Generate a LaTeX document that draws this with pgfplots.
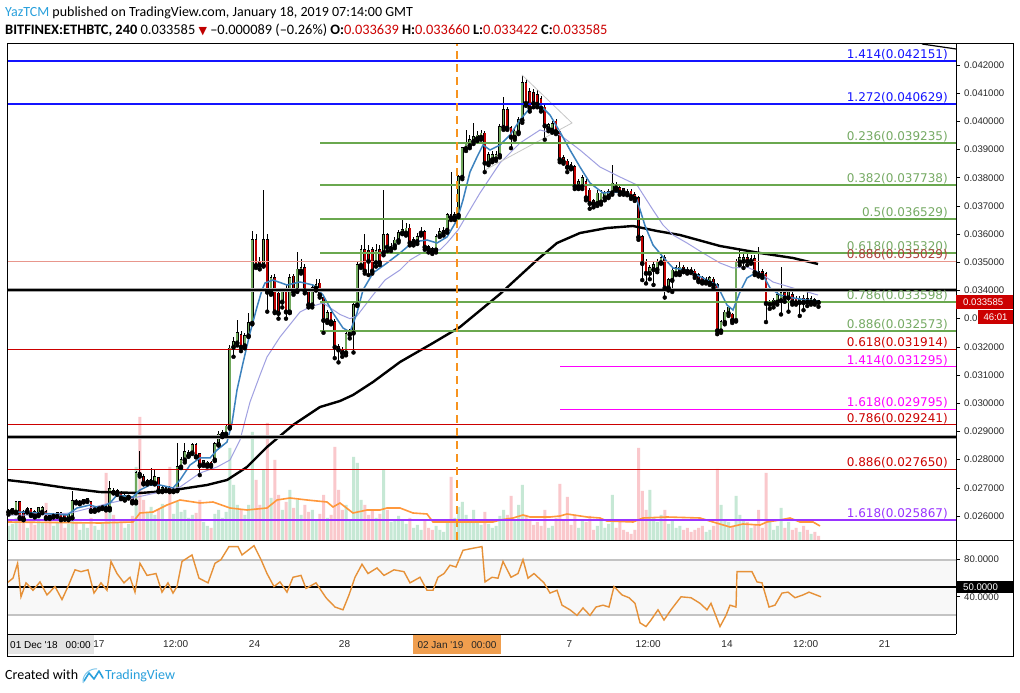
\documentclass[border=0pt]{standalone}
\usepackage{fontspec}
\setmainfont{Carlito}
\newfontfamily\dv{DejaVu Sans}
\newfontfamily\lib{Liberation Sans}
\usepackage{pgfplots}
\pgfplotsset{compat=1.18}
\usepackage{pgfplotstable}
\definecolor{tvblue}{RGB}{41,160,220}
\definecolor{fibblue}{RGB}{20,20,255}
\definecolor{fibgreen}{RGB}{106,168,79}
\definecolor{fibgreentext}{RGB}{118,170,100}
\definecolor{fibred}{RGB}{204,0,0}
\definecolor{fibsalmon}{RGB}{232,150,140}
\definecolor{fibbrown}{RGB}{175,65,60}
\definecolor{fibmag}{RGB}{255,0,255}
\definecolor{fibpurple}{RGB}{153,51,255}
\definecolor{candg}{RGB}{112,168,92}
\definecolor{candr}{RGB}{192,0,0}
\definecolor{volg}{RGB}{198,232,213}
\definecolor{volr}{RGB}{250,200,204}
\definecolor{volma}{RGB}{255,152,60}
\definecolor{mablue}{RGB}{60,130,190}
\definecolor{mapurple}{RGB}{160,160,225}
\definecolor{dashor}{RGB}{247,147,30}
\definecolor{rsiline}{RGB}{230,145,56}
\definecolor{bandline}{RGB}{195,195,195}
\definecolor{bandfill}{RGB}{248,248,248}
\definecolor{ticktext}{RGB}{40,40,40}
\definecolor{pricered}{RGB}{204,0,0}
\definecolor{boxorange}{RGB}{240,158,78}
\definecolor{boxgrey}{RGB}{228,228,228}

\pgfplotstableread{
o h l c v
0.02615 0.02625 0.02605 0.02620 14
0.02620 0.02630 0.02612 0.02625 16
0.02615 0.02655 0.02610 0.02650 22
0.02650 0.02655 0.02590 0.02595 28
0.02615 0.02620 0.02585 0.02590 20
0.02618 0.02632 0.02612 0.02625 12
0.02625 0.02630 0.02600 0.02605 18
0.02615 0.02620 0.02595 0.02600 15
0.02605 0.02632 0.02600 0.02628 22
0.02615 0.02635 0.02610 0.02630 17
0.02615 0.02620 0.02590 0.02595 37
0.02600 0.02605 0.02590 0.02595 20
0.02600 0.02610 0.02595 0.02605 14
0.02600 0.02615 0.02598 0.02612 18
0.02612 0.02615 0.02585 0.02590 24
0.02605 0.02608 0.02588 0.02590 12
0.02590 0.02610 0.02585 0.02605 16
0.02595 0.02690 0.02592 0.02655 30
0.02655 0.02660 0.02645 0.02650 18
0.02648 0.02656 0.02642 0.02652 10
0.02652 0.02662 0.02648 0.02657 16
0.02655 0.02665 0.02650 0.02660 12
0.02650 0.02655 0.02615 0.02620 22
0.02622 0.02632 0.02615 0.02628 14
0.02625 0.02636 0.02620 0.02632 10
0.02630 0.02640 0.02625 0.02635 18
0.02632 0.02638 0.02620 0.02628 67
0.02628 0.02725 0.02620 0.02697 33
0.02690 0.02700 0.02680 0.02685 25
0.02682 0.02695 0.02675 0.02690 18
0.02680 0.02688 0.02660 0.02665 20
0.02660 0.02678 0.02655 0.02672 12
0.02668 0.02676 0.02662 0.02672 16
0.02665 0.02670 0.02645 0.02652 24
0.02652 0.02760 0.02645 0.02752 73
0.02752 0.02830 0.02740 0.02748 123
0.02740 0.02750 0.02712 0.02718 40
0.02718 0.02730 0.02712 0.02725 28
0.02722 0.02770 0.02715 0.02728 33
0.02718 0.02765 0.02712 0.02738 25
0.02735 0.02740 0.02685 0.02690 30
0.02690 0.02705 0.02685 0.02700 36
0.02692 0.02705 0.02688 0.02700 20
0.02700 0.02705 0.02685 0.02690 73
0.02690 0.02700 0.02685 0.02695 26
0.02692 0.02860 0.02688 0.02775 38
0.02775 0.02810 0.02770 0.02800 28
0.02800 0.02860 0.02790 0.02827 30
0.02815 0.02835 0.02810 0.02825 22
0.02825 0.02860 0.02820 0.02852 25
0.02852 0.02858 0.02808 0.02812 27
0.02820 0.02825 0.02745 0.02780 40
0.02785 0.02800 0.02778 0.02795 18
0.02782 0.02795 0.02775 0.02790 14
0.02790 0.02795 0.02775 0.02782 12
0.02800 0.02862 0.02795 0.02855 26
0.02855 0.02900 0.02850 0.02890 30
0.02888 0.02905 0.02880 0.02895 22
0.02892 0.02925 0.02885 0.02918 28
0.02916 0.03205 0.02910 0.03195 92
0.03200 0.03235 0.03165 0.03217 55
0.03215 0.03295 0.03205 0.03250 35
0.03243 0.03255 0.03185 0.03200 30
0.03205 0.03250 0.03195 0.03240 25
0.03240 0.03320 0.03235 0.03285 35
0.03285 0.03610 0.03280 0.03580 108
0.03580 0.03600 0.03480 0.03490 60
0.03500 0.03520 0.03475 0.03490 35
0.03490 0.03757 0.03485 0.03580 70
0.03580 0.03600 0.03325 0.03395 117
0.03395 0.03455 0.03385 0.03445 42
0.03445 0.03460 0.03320 0.03325 80
0.03390 0.03400 0.03300 0.03320 45
0.03360 0.03405 0.03340 0.03395 30
0.03395 0.03420 0.03300 0.03325 38
0.03325 0.03460 0.03320 0.03445 50
0.03450 0.03460 0.03385 0.03395 32
0.03400 0.03535 0.03395 0.03475 40
0.03470 0.03510 0.03460 0.03480 25
0.03480 0.03495 0.03390 0.03400 35
0.03395 0.03400 0.03340 0.03350 28
0.03350 0.03420 0.03340 0.03410 30
0.03410 0.03440 0.03400 0.03420 20
0.03425 0.03440 0.03375 0.03385 26
0.03375 0.03380 0.03250 0.03295 45
0.03295 0.03330 0.03285 0.03320 22
0.03320 0.03325 0.03280 0.03290 25
0.03290 0.03300 0.03160 0.03200 93
0.03200 0.03210 0.03145 0.03190 50
0.03190 0.03200 0.03165 0.03180 30
0.03180 0.03255 0.03170 0.03245 35
0.03245 0.03265 0.03230 0.03255 20
0.03250 0.03355 0.03180 0.03350 83
0.03350 0.03500 0.03345 0.03490 77
0.03490 0.03560 0.03480 0.03545 40
0.03545 0.03600 0.03460 0.03470 35
0.03540 0.03560 0.03455 0.03505 25
0.03545 0.03555 0.03460 0.03470 30
0.03500 0.03565 0.03485 0.03540 22
0.03545 0.03560 0.03490 0.03500 26
0.03535 0.03757 0.03525 0.03597 70
0.03597 0.03605 0.03540 0.03555 30
0.03550 0.03570 0.03540 0.03555 18
0.03560 0.03590 0.03550 0.03578 20
0.03578 0.03615 0.03570 0.03605 24
0.03605 0.03655 0.03600 0.03615 20
0.03605 0.03640 0.03595 0.03620 16
0.03620 0.03635 0.03560 0.03570 22
0.03572 0.03590 0.03560 0.03580 12
0.03575 0.03605 0.03565 0.03590 15
0.03605 0.03625 0.03595 0.03610 10
0.03608 0.03615 0.03545 0.03555 20
0.03555 0.03560 0.03535 0.03548 12
0.03548 0.03555 0.03530 0.03540 10
0.03545 0.03600 0.03535 0.03590 14
0.03595 0.03620 0.03590 0.03608 10
0.03605 0.03625 0.03595 0.03612 8
0.03615 0.03675 0.03605 0.03668 18
0.03668 0.03820 0.03650 0.03660 63
0.03660 0.03680 0.03650 0.03668 22
0.03668 0.03810 0.03660 0.03803 33
0.03803 0.03910 0.03795 0.03905 38
0.03905 0.03970 0.03895 0.03923 25
0.03915 0.03950 0.03905 0.03935 20
0.03930 0.03995 0.03920 0.03945 30
0.03940 0.03965 0.03930 0.03950 18
0.03945 0.03970 0.03935 0.03958 15
0.03958 0.03965 0.03820 0.03853 28
0.03853 0.03890 0.03845 0.03880 16
0.03865 0.03895 0.03855 0.03880 12
0.03868 0.03895 0.03860 0.03882 14
0.03880 0.03990 0.03872 0.03980 24
0.03980 0.04087 0.03970 0.04040 30
0.04040 0.04050 0.03970 0.03977 25
0.03977 0.03985 0.03905 0.03945 44
0.03945 0.03975 0.03935 0.03965 20
0.03962 0.04015 0.03955 0.04005 35
0.04005 0.04165 0.03995 0.04136 55
0.04136 0.04150 0.04055 0.04065 25
0.04105 0.04120 0.04035 0.04048 20
0.04100 0.04115 0.04050 0.04065 15
0.04095 0.04110 0.04050 0.04062 18
0.04080 0.04090 0.04035 0.04048 14
0.04050 0.04060 0.03935 0.03985 30
0.03975 0.03995 0.03965 0.03988 12
0.03970 0.04000 0.03960 0.03990 14
0.04000 0.04010 0.03955 0.03965 22
0.03965 0.03970 0.03855 0.03865 56
0.03870 0.03880 0.03850 0.03858 20
0.03858 0.03865 0.03820 0.03838 43
0.03845 0.03855 0.03830 0.03838 15
0.03838 0.03845 0.03760 0.03770 25
0.03770 0.03795 0.03760 0.03785 12
0.03770 0.03810 0.03760 0.03800 20
0.03785 0.03795 0.03720 0.03730 18
0.03755 0.03765 0.03690 0.03710 24
0.03718 0.03725 0.03695 0.03708 10
0.03710 0.03755 0.03700 0.03745 14
0.03715 0.03755 0.03705 0.03745 20
0.03730 0.03752 0.03720 0.03745 12
0.03735 0.03760 0.03728 0.03750 16
0.03748 0.03845 0.03740 0.03780 45
0.03775 0.03785 0.03755 0.03765 12
0.03765 0.03770 0.03740 0.03750 18
0.03760 0.03765 0.03740 0.03750 10
0.03752 0.03760 0.03738 0.03745 8
0.03752 0.03760 0.03725 0.03735 6
0.03740 0.03748 0.03718 0.03728 10
0.03728 0.03735 0.03580 0.03590 92
0.03590 0.03598 0.03437 0.03497 49
0.03500 0.03510 0.03425 0.03462 30
0.03462 0.03490 0.03440 0.03480 50
0.03475 0.03500 0.03420 0.03490 22
0.03475 0.03510 0.03465 0.03500 18
0.03500 0.03525 0.03495 0.03515 25
0.03515 0.03525 0.03375 0.03410 30
0.03410 0.03445 0.03400 0.03437 16
0.03437 0.03480 0.03395 0.03472 20
0.03462 0.03490 0.03455 0.03480 12
0.03465 0.03500 0.03455 0.03482 14
0.03482 0.03490 0.03465 0.03472 10
0.03475 0.03485 0.03460 0.03468 12
0.03475 0.03482 0.03462 0.03468 8
0.03468 0.03475 0.03445 0.03455 10
0.03455 0.03462 0.03430 0.03437 12
0.03445 0.03450 0.03425 0.03432 14
0.03432 0.03448 0.03425 0.03438 8
0.03428 0.03452 0.03420 0.03445 10
0.03440 0.03448 0.03410 0.03420 14
0.03420 0.03425 0.03245 0.03258 71
0.03258 0.03295 0.03250 0.03288 35
0.03288 0.03330 0.03280 0.03322 20
0.03320 0.03345 0.03310 0.03340 18
0.03315 0.03320 0.03285 0.03295 14
0.03295 0.03510 0.03290 0.03500 44
0.03502 0.03550 0.03490 0.03515 25
0.03505 0.03530 0.03480 0.03515 20
0.03515 0.03530 0.03490 0.03505 18
0.03505 0.03525 0.03495 0.03512 12
0.03512 0.03525 0.03455 0.03465 15
0.03465 0.03555 0.03450 0.03458 30
0.03465 0.03475 0.03445 0.03455 12
0.03458 0.03465 0.03288 0.03355 67
0.03352 0.03365 0.03335 0.03358 20
0.03355 0.03372 0.03340 0.03365 10
0.03360 0.03395 0.03350 0.03385 14
0.03365 0.03485 0.03315 0.03392 32
0.03392 0.03400 0.03360 0.03375 12
0.03375 0.03405 0.03325 0.03395 18
0.03385 0.03395 0.03350 0.03360 10
0.03372 0.03380 0.03350 0.03358 12
0.03358 0.03380 0.03310 0.03372 8
0.03372 0.03385 0.03330 0.03358 14
0.03370 0.03405 0.03345 0.03360 10
0.03360 0.03380 0.03350 0.03370 6
0.03368 0.03375 0.03350 0.03360 8
0.033639 0.033660 0.033422 0.033585 4
}\candles

\pgfplotstableread{
x y
7 0.027277
33 0.027171
67 0.026993
100 0.026851
140 0.026816
167 0.026887
187 0.026993
207 0.027100
227 0.027277
247 0.027738
267 0.028448
293 0.029228
320 0.029867
340 0.030080
353 0.030293
373 0.030754
400 0.031463
433 0.032137
460 0.032705
500 0.033876
537 0.035082
557 0.035685
580 0.036040
607 0.036217
633 0.036288
657 0.036111
680 0.035969
720 0.035579
760 0.035330
793 0.035153
818 0.034940
}\maBlack

\pgfplotstableread{
x y
7 0.026142
20 0.026142
40 0.026106
67 0.026035
77 0.026284
90 0.026390
100 0.026284
110 0.026461
117 0.026745
133 0.026674
140 0.026922
150 0.027100
160 0.027100
173 0.026993
180 0.027277
190 0.027809
200 0.028058
210 0.028058
217 0.028342
227 0.028625
232 0.029299
237 0.030470
243 0.031428
250 0.032492
257 0.033415
262 0.034018
265 0.034266
273 0.034372
287 0.034195
300 0.034301
313 0.034195
323 0.033840
333 0.033202
343 0.032670
350 0.032528
357 0.033202
363 0.034018
373 0.034621
387 0.034976
400 0.035330
413 0.035721
427 0.035792
437 0.035685
447 0.035898
457 0.036501
463 0.037211
470 0.038204
477 0.038736
483 0.039162
490 0.038984
500 0.039162
510 0.039517
520 0.040049
530 0.040474
540 0.040581
550 0.040226
560 0.039623
570 0.038984
580 0.038381
590 0.037814
603 0.037459
613 0.037494
627 0.037459
637 0.037211
645 0.036300
653 0.035614
663 0.035188
673 0.034798
687 0.034727
703 0.034443
717 0.034195
727 0.033486
733 0.033308
740 0.033947
747 0.034443
757 0.034656
763 0.034550
770 0.034089
780 0.033840
793 0.033734
807 0.033663
818 0.033627
}\maBlue

\pgfplotstableread{
x y
7 0.026035
40 0.026035
70 0.026106
110 0.026461
133 0.026638
160 0.026851
180 0.027029
200 0.027525
217 0.027738
230 0.027987
240 0.028696
250 0.030044
260 0.031002
267 0.031641
280 0.032350
300 0.033237
310 0.033415
323 0.033557
340 0.033150
350 0.033000
357 0.033100
373 0.033840
385 0.034372
400 0.034727
410 0.035082
427 0.035437
440 0.035437
447 0.035685
458 0.036146
480 0.037459
500 0.038523
520 0.039233
540 0.039694
560 0.039517
580 0.038984
600 0.038381
620 0.038027
637 0.037743
653 0.036856
663 0.036324
673 0.035969
687 0.035685
703 0.035330
720 0.034976
733 0.034798
747 0.034834
760 0.034621
773 0.034301
793 0.034089
818 0.033840
}\maPurple

\pgfplotstableread{
x y
7 18
100 17
133 18
140 27
153 28
167 35
180 40
200 37
213 38
230 32
247 30
267 32
277 40
290 42
307 40
327 38
333 33
340 37
353 27
367 30
380 30
387 32
400 32
413 27
427 26
433 18
450 18
473 18
493 18
500 20
513 22
523 25
530 23
550 23
560 24
567 26
587 23
600 22
607 19
633 18
643 22
667 23
700 22
713 18
730 13
743 16
760 15
767 18
780 20
790 22
800 18
813 18
820 14
}\volMA

\pgfplotstableread{
x y
6.5 54.5
13 60
17.6 76
21 40
26 55
33 47
40 56
47 42
55 51
62 37
68 51
75 69
81 67
88 69
94 44
101 55
107 47
111 78
117 65
124 55
130 61
135 45
140 76
147 63
156 65
162 45
168 55
173 44
177 51
182 78
192 85
199 60
208 55
215 76
221 80
229 94
238 94
242 85
254 95
261 80
267 65
274 51
280 56
287 45
293 61
301 63
306 49
316 55
326 39
335 29
343 26
349 42
355 61
362 75
368 65
377 71
384 63
394 69
404 67
410 55
420 61
427 47
433 47
438 61
444 65
450 74
456 72
463 90
472 92
482 94
485 56
492 61
498 60
503 78
511 61
518 65
523 80
528 60
534 65
544 55
550 44
557 47
562 31
570 26
577 20
583 28
590 20
596 29
603 31
609 29
614 51
622 42
629 39
635 33
640 12
646 8
651 15
658 26
664 15
671 26
681 40
691 39
700 33
707 26
711 33
720 8
726 20
730 31
736 29
737 67
752 67
757 56
762 55
769 29
775 31
782 44
788 45
795 39
803 42
809 45
821 40
}\rsi

\newcommand\fibfont{\dv\fontsize{12}{14}\selectfont}
\newcommand\fiblabel[3]{\node[anchor=base east, inner sep=0pt, text=#1, font=\fibfont, yshift=2.5pt] at (axis cs:948,#2) {#3};}

\begin{document}
\begin{tikzpicture}
\useasboundingbox (0pt,0pt) rectangle (1020pt,693pt);
\fill[white] (0pt,0pt) rectangle (1020pt,693pt);

% ---------- volume (behind) ----------
\begin{axis}[at={(7pt,153pt)}, anchor=south west, scale only axis,
  width=949pt, height=496pt, xmin=7, xmax=956, ymin=0, ymax=496,
  hide axis, clip=true]
\addplot[ybar, bar width=3pt, fill=volg, draw=none]
  table[x expr=\coordindex*3.75+8.5, y expr={\thisrow{c}>=\thisrow{o} ? \thisrow{v} : nan}] {\candles};
\addplot[ybar, bar width=3pt, fill=volr, draw=none]
  table[x expr=\coordindex*3.75+8.5, y expr={\thisrow{c}<\thisrow{o} ? \thisrow{v} : nan}] {\candles};
\addplot[volma, line width=1.6pt] table[x=x,y=y] {\volMA};
\end{axis}

% ---------- main price panel ----------
\begin{axis}[at={(7pt,153pt)}, anchor=south west, scale only axis,
  width=949pt, height=496pt, xmin=7, xmax=956, ymin=0.025149, ymax=0.042745,
  axis line style={draw=none}, xtick=\empty,
  ytick={0.026,0.027,0.028,0.029,0.030,0.031,0.032,0.033,0.034,0.035,0.036,0.037,0.038,0.039,0.040,0.041,0.042},
  ytick pos=right, yticklabel pos=right, scaled y ticks=false,
  tick align=outside, major tick length=4pt,
  tick style={draw=black, line width=0.6pt},
  yticklabel style={font=\lib\fontsize{9.6}{11}\selectfont, text=ticktext, anchor=west, inner sep=0pt, xshift=4pt,
    /pgf/number format/.cd, fixed, fixed zerofill, precision=6, assume math mode=true},
  clip=true]

% wicks
\addplot[only marks, mark=none, error bars/.cd, y dir=plus, y explicit, error mark=none,
  error bar style={draw=black, line width=0.9pt}]
  table[x expr=\coordindex*3.75+8.5, y=l, y error expr=\thisrow{h}-\thisrow{l}] {\candles};
% body outline
\addplot[only marks, mark=none, error bars/.cd, y dir=plus, y explicit, error mark=none,
  error bar style={draw=black, line width=2.9pt}]
  table[x expr=\coordindex*3.75+8.5, y expr={min(\thisrow{o},\thisrow{c})-0.000025},
        y error expr={max(abs(\thisrow{c}-\thisrow{o}),0.00001)+0.00005}] {\candles};
% green bodies
\addplot[only marks, mark=none, error bars/.cd, y dir=plus, y explicit, error mark=none,
  error bar style={draw=candg, line width=1.6pt}]
  table[x expr=\coordindex*3.75+8.5, y expr={\thisrow{c}>=\thisrow{o} ? \thisrow{o} : nan},
        y error expr={\thisrow{c}-\thisrow{o}}] {\candles};
% red bodies
\addplot[only marks, mark=none, error bars/.cd, y dir=plus, y explicit, error mark=none,
  error bar style={draw=candr, line width=1.6pt}]
  table[x expr=\coordindex*3.75+8.5, y expr={\thisrow{c}<\thisrow{o} ? \thisrow{c} : nan},
        y error expr={\thisrow{o}-\thisrow{c}}] {\candles};

% moving averages
\addplot[black, line width=2.4pt] table[x=x,y=y] {\maBlack};
\addplot[mapurple, line width=1pt] table[x=x,y=y] {\maPurple};
\addplot[mablue, line width=1.5pt] table[x=x,y=y] {\maBlue};

% triangle drawing
\addplot[black!22, line width=0.8pt] coordinates {(522,0.041645) (572,0.039942) (485,0.038275)};
\addplot[black, line width=1.2pt] coordinates {(922,0.042745) (956,0.042568)};

% horizontal levels
\addplot[fibblue, line width=2pt] coordinates {(7,0.042151) (956,0.042151)};
\addplot[fibblue, line width=2pt] coordinates {(7,0.040629) (956,0.040629)};
\addplot[fibgreen, line width=2pt] coordinates {(320,0.039235) (956,0.039235)};
\addplot[fibgreen, line width=2pt] coordinates {(320,0.037738) (956,0.037738)};
\addplot[fibgreen, line width=2pt] coordinates {(320,0.036529) (956,0.036529)};
\addplot[fibgreen, line width=2pt] coordinates {(320,0.035320) (956,0.035320)};
\addplot[fibsalmon, line width=1pt] coordinates {(7,0.035029) (956,0.035029)};
\addplot[black!35, line width=3.2pt] coordinates {(7,0.03402) (956,0.03402)};
\addplot[black, line width=1.8pt] coordinates {(7,0.03402) (956,0.03402)};
\addplot[fibgreen, line width=2pt] coordinates {(320,0.033598) (956,0.033598)};
\addplot[fibgreen, line width=2pt] coordinates {(320,0.032573) (956,0.032573)};
\addplot[fibred, line width=1pt] coordinates {(7,0.031914) (956,0.031914)};
\addplot[fibmag, line width=1pt] coordinates {(560,0.031295) (956,0.031295)};
\addplot[fibmag, line width=1pt] coordinates {(560,0.029795) (956,0.029795)};
\addplot[fibred, line width=1pt] coordinates {(7,0.029241) (956,0.029241)};
\addplot[black!35, line width=3.2pt] coordinates {(7,0.02880) (956,0.02880)};
\addplot[black, line width=1.8pt] coordinates {(7,0.02880) (956,0.02880)};
\addplot[fibred, line width=1pt] coordinates {(7,0.027650) (956,0.027650)};
\addplot[fibpurple, line width=2pt] coordinates {(7,0.025867) (956,0.025867)};

% vertical dashed line
\addplot[dashor, line width=2pt, dash pattern=on 8pt off 5pt] coordinates {(457,0.025149) (457,0.042745)};

\fiblabel{fibblue}{0.042151}{1.414(0.042151)}
\fiblabel{fibblue}{0.040629}{1.272(0.040629)}
\fiblabel{fibgreentext}{0.039235}{0.236(0.039235)}
\fiblabel{fibgreentext}{0.037738}{0.382(0.037738)}
\fiblabel{fibgreentext}{0.036529}{0.5(0.036529)}
\fiblabel{fibgreentext}{0.035320}{0.618(0.035320)}
\fiblabel{fibbrown}{0.035029}{0.886(0.035029)}
\fiblabel{fibgreentext}{0.033598}{0.786(0.033598)}
\fiblabel{fibgreentext}{0.032573}{0.886(0.032573)}
\fiblabel{fibred}{0.031914}{0.618(0.031914)}
\fiblabel{fibmag}{0.031295}{1.414(0.031295)}
\fiblabel{fibmag}{0.029795}{1.618(0.029795)}
\fiblabel{fibred}{0.029241}{0.786(0.029241)}
\fiblabel{fibred}{0.027650}{0.886(0.027650)}
\fiblabel{fibpurple}{0.025867}{1.618(0.025867)}
\end{axis}

% ---------- RSI panel ----------
\begin{axis}[at={(7pt,59pt)}, anchor=south west, scale only axis,
  width=949pt, height=93pt, xmin=7, xmax=956, ymin=0, ymax=100,
  axis line style={draw=none},
  ytick={40,80}, ytick pos=right, yticklabel pos=right,
  tick align=outside, major tick length=4pt,
  y tick style={draw=black, line width=0.6pt},
  yticklabel style={font=\lib\fontsize{9.6}{11}\selectfont, text=ticktext, anchor=west, inner sep=0pt, xshift=4pt,
    /pgf/number format/.cd, fixed, fixed zerofill, precision=4, assume math mode=true},
  xtick={99,175.75,254.5,344.5,569.5,648.25,727,805.75,884.5},
  xticklabels={17,12:00,24,28,7,12:00,14,12:00,21},
  xtick pos=bottom, x tick style={draw=none},
  xticklabel style={font=\lib\fontsize{10}{12}\selectfont, text=ticktext, anchor=base, inner sep=0pt, yshift=-10pt},
  clip=true]
\addplot[draw=none, fill=bandfill] coordinates {(7,20) (956,20) (956,80) (7,80)} -- cycle;
\addplot[bandline, line width=2pt] coordinates {(7,80) (956,80)};
\addplot[bandline, line width=2pt] coordinates {(7,20) (956,20)};
\addplot[black, line width=2pt] coordinates {(7,50) (956,50)};
\addplot[rsiline, line width=1.4pt] table[x=x,y=y] {\rsi};
\end{axis}

% ---------- frame ----------
\draw[black, line width=0.8pt] (7pt,37pt) rectangle (1013pt,650pt);
\draw[black, line width=0.8pt] (7pt,152.5pt) -- (1013pt,152.5pt);
\draw[black, line width=0.8pt] (7pt,59pt) -- (956pt,59pt);
\draw[black, line width=0.8pt] (956pt,59pt) -- (956pt,650pt);

% price boxes
\fill[pricered] (956pt,384pt) rectangle (1013pt,398pt);
\node[anchor=base west, inner sep=0pt, text=white, font=\lib\fontsize{9.6}{11}\selectfont] at (963pt,387.5pt) {0.033585};
\fill[pricered] (978pt,369pt) rectangle (1013pt,383pt);
\node[anchor=base, inner sep=0pt, text=white, font=\lib\fontsize{9.6}{11}\selectfont] at (995.5pt,372.5pt) {46:01};
\fill[black] (957pt,100pt) rectangle (1013pt,112pt);
\node[anchor=base west, inner sep=0pt, text=white, font=\lib\fontsize{9.6}{11}\selectfont] at (963pt,102.5pt) {50.0000};

% date boxes
\fill[boxgrey] (7.5pt,39pt) rectangle (94pt,58pt);
\node[anchor=base, inner sep=0pt, text=black, font=\lib\fontsize{10}{12}\selectfont] at (50.5pt,44pt) {01 Dec '18\hspace{8pt}00:00};
\fill[boxorange] (413pt,39pt) rectangle (501pt,58pt);
\node[anchor=base, inner sep=0pt, text=black!85, font=\lib\fontsize{10}{12}\selectfont] at (457pt,44pt) {02 Jan '19\hspace{8pt}00:00};

% header
\node[anchor=base west, inner sep=0pt, font=\fontsize{14}{16}\selectfont] at (5pt,676pt)
  {\textcolor{tvblue}{YazTCM} published on TradingView.com, January 18, 2019 07:14:00 GMT};
\node[anchor=base west, inner sep=0pt, font=\fontsize{14.4}{16}\selectfont] at (5pt,658pt)
  {\textbf{BITFINEX:ETHBTC, 240} 0.033585 {\dv\fontsize{11}{12}\selectfont\textcolor{candr}{▼}} –0.000089 (–0.26\%) \textbf{O:}\textcolor{fibred}{0.033639} \textbf{H:}\textcolor{fibred}{0.033660} \textbf{L:}\textcolor{fibred}{0.033422} \textbf{C:}\textcolor{fibred}{0.033585}};

% footer
\node[anchor=base west, inner sep=0pt, font=\fontsize{14}{16}\selectfont] at (5pt,13pt) {Created with};
\draw[tvblue, line width=1.6pt, line join=round, line cap=round] (84pt,12pt) -- (89pt,20pt) -- (94pt,14pt) -- (99pt,22pt) -- (103pt,15pt);
\draw[tvblue!60, line width=1pt] (83pt,10pt) .. controls (82pt,20pt) and (92pt,25pt) .. (97pt,24pt);
\node[anchor=base west, inner sep=0pt, text=tvblue, font=\fontsize{14}{16}\selectfont] at (105pt,13pt) {TradingView};
\end{tikzpicture}
\end{document}
